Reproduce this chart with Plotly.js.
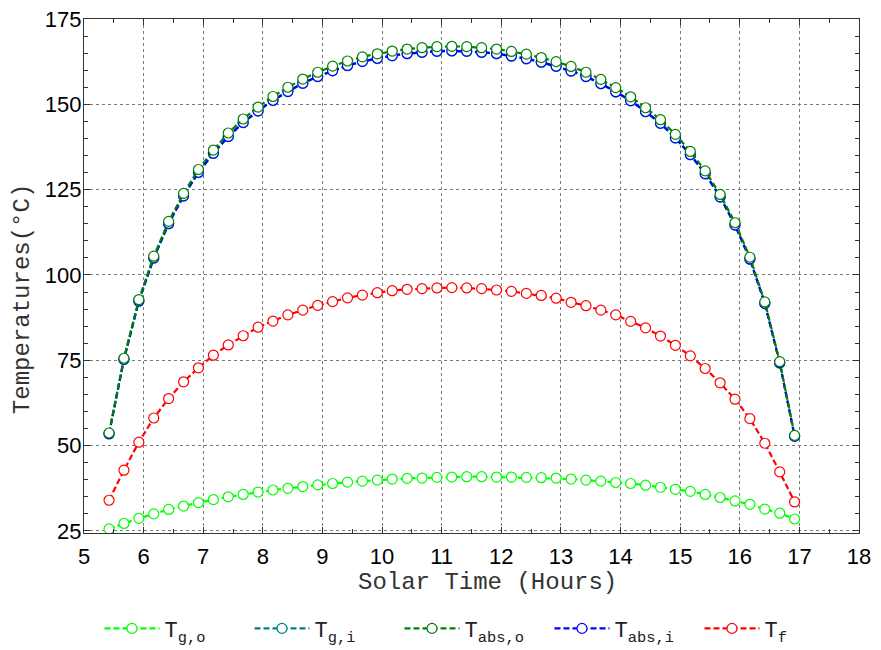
<!DOCTYPE html>
<html>
<head>
<meta charset="utf-8">
<script src="https://cdn.plot.ly/plotly-3.0.1.min.js"></script>
<style>html,body{margin:0;padding:0;background:#fff;}#chart{width:881px;height:650px;}</style>
</head>
<body>
<div id="chart"></div>
<script>
// Solar time (hours)
const solarTime = [5.42, 5.67, 5.92, 6.17, 6.42, 6.67, 6.92, 7.17, 7.42, 7.67, 7.92, 8.17, 8.42, 8.67, 8.92, 9.17, 9.42, 9.67, 9.92, 10.17, 10.42, 10.67, 10.92, 11.17, 11.42, 11.67, 11.92, 12.17, 12.42, 12.67, 12.92, 13.17, 13.42, 13.67, 13.92, 14.17, 14.42, 14.67, 14.92, 15.17, 15.42, 15.67, 15.92, 16.17, 16.42, 16.67, 16.92];

const Tg_o = [25.6, 27.2, 28.7, 30.0, 31.3, 32.3, 33.3, 34.2, 35.0, 35.7, 36.4, 37.0, 37.5, 38.0, 38.5, 38.9, 39.3, 39.6, 39.9, 40.2, 40.4, 40.5, 40.7, 40.8, 40.9, 40.9, 40.8, 40.8, 40.7, 40.6, 40.5, 40.2, 39.9, 39.6, 39.2, 38.9, 38.4, 37.8, 37.2, 36.6, 35.7, 34.8, 33.8, 32.8, 31.4, 30.2, 28.5];

const Tg_i = [53.4, 75.2, 92.3, 104.9, 115.0, 123.1, 130.0, 135.6, 140.5, 144.6, 148.0, 151.1, 153.7, 156.1, 158.1, 159.8, 161.3, 162.5, 163.4, 164.2, 164.8, 165.2, 165.5, 165.6, 165.5, 165.2, 164.8, 164.1, 163.3, 162.3, 161.1, 159.7, 158.1, 156.0, 153.6, 151.0, 147.8, 144.4, 140.1, 135.2, 129.6, 122.8, 114.6, 104.6, 91.6, 74.2, 52.7];

const Tabs_o = [53.7, 75.6, 92.8, 105.5, 115.7, 123.9, 130.9, 136.6, 141.6, 145.7, 149.2, 152.3, 155.0, 157.4, 159.4, 161.2, 162.7, 163.9, 164.8, 165.6, 166.2, 166.6, 166.9, 167.0, 166.9, 166.6, 166.2, 165.5, 164.7, 163.7, 162.5, 161.1, 159.4, 157.3, 154.9, 152.2, 149.0, 145.5, 141.2, 136.2, 130.5, 123.6, 115.3, 105.2, 92.1, 74.6, 53.0];

const Tabs_i = [53.5, 75.3, 92.4, 105.0, 115.1, 123.2, 130.1, 135.7, 140.6, 144.7, 148.1, 151.2, 153.8, 156.2, 158.2, 159.9, 161.4, 162.6, 163.5, 164.3, 164.9, 165.3, 165.6, 165.7, 165.6, 165.3, 164.9, 164.2, 163.4, 162.4, 161.2, 159.8, 158.2, 156.1, 153.7, 151.1, 147.9, 144.5, 140.2, 135.3, 129.7, 122.9, 114.7, 104.7, 91.7, 74.3, 52.8];

const Tf = [34.0, 42.8, 51.0, 58.1, 63.8, 68.7, 72.8, 76.5, 79.5, 82.2, 84.7, 86.5, 88.3, 89.7, 91.1, 92.2, 93.3, 94.1, 94.8, 95.4, 95.8, 96.0, 96.2, 96.3, 96.2, 96.0, 95.6, 95.2, 94.6, 94.0, 93.2, 92.0, 91.0, 89.7, 88.3, 86.4, 84.5, 82.1, 79.4, 76.3, 72.6, 68.4, 63.6, 57.9, 50.7, 42.3, 33.5];

const seriesNames = ['T<sub>g,o</sub>', 'T<sub>g,i</sub>', 'T<sub>abs,o</sub>', 'T<sub>abs,i</sub>', 'T<sub>f</sub>'];
const seriesColors = ['#00ff00', '#008080', '#008000', '#0000ff', '#ff0000'];

function mk(y, idx, rank) {
  return {
    x: solarTime, y: y, type: 'scatter', mode: 'lines+markers',
    name: seriesNames[idx], legendrank: rank,
    line: {color: seriesColors[idx], width: 2.2, dash: '6px,3px'},
    marker: {symbol: 'circle', size: 10, color: 'white', line: {color: seriesColors[idx], width: 1.2}}
  };
}

const data = [
  mk(Tg_o, 0, 1),
  mk(Tg_i, 1, 2),
  mk(Tabs_i, 3, 4),
  mk(Tabs_o, 2, 3),
  mk(Tf, 4, 5)
];

const tickFont = {family: 'Liberation Sans, Arial, sans-serif', size: 22, color: '#000'};
const monoFont = 'Liberation Mono, Courier New, monospace';

const layout = {
  width: 881, height: 650,
  margin: {l: 84, r: 22, t: 19, b: 117, autoexpand: false},
  paper_bgcolor: '#fff', plot_bgcolor: '#fff',
  showlegend: true,
  legend: {
    orientation: 'h', x: 0.02, y: -0.186, xanchor: 'left', yanchor: 'middle',
    font: {family: monoFont, size: 22, color: '#222'},
    itemwidth: 55, entrywidth: 80, entrywidthmode: 'pixels', bgcolor: 'rgba(0,0,0,0)'
  },
  xaxis: {
    range: [5, 18], dtick: 1, tick0: 5,
    showgrid: true, gridcolor: '#7a7a7a', griddash: 'dot', gridwidth: 1,
    zeroline: false, showline: true, linecolor: '#333', linewidth: 1.2, mirror: 'ticks',
    ticks: 'inside', ticklen: 6, tickcolor: '#333',
    minor: {dtick: 0.5, ticks: 'inside', ticklen: 4, tickcolor: '#333', showgrid: false},
    tickfont: tickFont, ticklabelstandoff: 3
  },
  yaxis: {
    range: [24.4, 175], dtick: 25, tick0: 25,
    showgrid: true, gridcolor: '#7a7a7a', griddash: 'dot', gridwidth: 1,
    zeroline: false, showline: true, linecolor: '#333', linewidth: 1.2, mirror: 'ticks',
    ticks: 'inside', ticklen: 6, tickcolor: '#333',
    minor: {dtick: 5, ticks: 'inside', ticklen: 4, tickcolor: '#333', showgrid: false},
    tickfont: tickFont, ticklabelstandoff: -3
  },
  annotations: [{
    text: 'Temperatures(°C)', xref: 'paper', yref: 'paper',
    x: -0.08, y: 0.455, xanchor: 'center', yanchor: 'middle', textangle: -90,
    showarrow: false, font: {family: monoFont, size: 24, color: '#333'}
  }, {
    text: 'Solar Time (Hours)', xref: 'paper', yref: 'paper',
    x: 0.52, y: -0.097, xanchor: 'center', yanchor: 'middle',
    showarrow: false, font: {family: monoFont, size: 24, color: '#333'}
  }]
};

Plotly.newPlot('chart', data, layout, {displayModeBar: false, staticPlot: true});
</script>
</body>
</html>
